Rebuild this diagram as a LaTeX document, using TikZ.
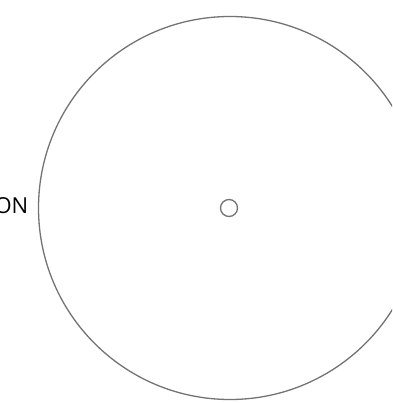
\documentclass[tikz,border=0pt]{standalone}
\usepackage{fontspec}
\setmainfont{Open Sans}
\begin{document}
\begin{tikzpicture}[x=1pt,y=-1pt,
  ring/.style={draw=black!55,line width=1.3pt},
  lbl/.style={font=\fontsize{22}{26}\selectfont,inner sep=0pt,anchor=base east}]
\useasboundingbox (0,0) rectangle (392,403);
\begin{scope}
\clip (0,0) rectangle (392,403);
\node[ring,circle,minimum size=383pt,inner sep=0pt] (big) at (230,208) {};
\node[ring,circle,minimum size=17pt,inner sep=0pt] (hub) at (229,208) {};
\node[lbl] (label) at (28.5,213.5) {ON};
\end{scope}
\end{tikzpicture}
\end{document}
